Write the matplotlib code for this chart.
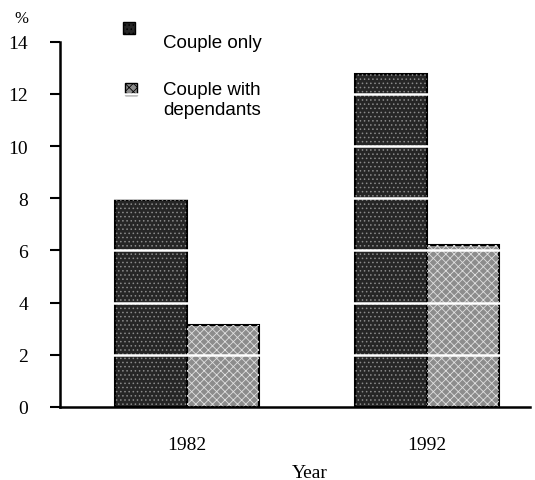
import numpy as np
import matplotlib
matplotlib.use("Agg")
import matplotlib.pyplot as plt
from matplotlib.patches import Rectangle

# data
years = ["1982", "1992"]
couple_only = [7.95, 12.75]
couple_dep = [3.15, 6.2]
labels = ["Couple only", "Couple with\ndependants"]

plt.rcParams['hatch.linewidth'] = 0.6

fig = plt.figure(figsize=(5.35, 4.81), dpi=100)
ax = fig.add_axes([0.112, 0.152, 0.878, 0.759])

x = np.arange(len(years))
w = 0.3

dark = "#262626"
light = "#8c8c8c"

# dark dotted bars
ax.bar(x - w / 2, couple_only, w, color=dark, edgecolor="black",
       linewidth=1.5, zorder=1)
ax.bar(x - w / 2, couple_only, w, color="none", edgecolor="#8a8a8a",
       hatch="....", linewidth=0, zorder=1.5)
# lighter checked bars
ax.bar(x + w / 2, couple_dep, w, color=light, edgecolor="black",
       linewidth=1.5, zorder=1)
ax.bar(x + w / 2, couple_dep, w, color="none", edgecolor="#e0e0e0",
       hatch="xxxx", linewidth=0, zorder=1.5)

# white lines across the bars
for yv in range(2, 14, 2):
    ax.axhline(yv, color="white", lw=1.8, zorder=2)

ax.set_xlim(-0.529, 1.429)
ax.set_ylim(0, 14)
ax.set_yticks(range(0, 15, 2))
ax.set_xticks(x)
ax.set_xticklabels(years, family="Liberation Serif", fontsize=14)
for t in ax.get_yticklabels():
    t.set_family("Liberation Serif")
    t.set_fontsize(14)
ax.tick_params(axis="x", length=0, pad=21)
ax.tick_params(axis="y", direction="out", length=7, width=1.5, pad=16)

for s in ["top", "right"]:
    ax.spines[s].set_visible(False)
ax.spines["left"].set_linewidth(1.8)
ax.spines["bottom"].set_linewidth(1.8)

ax.text(0.532, -0.181, "Year", transform=ax.transAxes,
        family="Liberation Serif", fontsize=14, ha="center", va="center")
ax.text(-0.083, 1.065, "%", transform=ax.transAxes,
        family="Liberation Serif", fontsize=12, ha="center", va="center")

# legend drawn by hand: square above-left of each label
for (x0, y0), c, h in [((0.134, 1.022), dark, "...."), ((0.138, 0.853), light, "xxxx")]:
    ax.add_patch(Rectangle((x0, y0), 0.0255, 0.033, transform=ax.transAxes,
                           facecolor=c, edgecolor="black", lw=1, hatch=h,
                           clip_on=False))
ax.text(0.219, 0.998, labels[0], transform=ax.transAxes, family="Liberation Sans",
        fontsize=13.5, ha="left", va="center")
ax.text(0.219, 0.892, labels[1], transform=ax.transAxes, family="Liberation Sans",
        fontsize=13.5, ha="left", va="top", linespacing=1.2)

plt.savefig("out.png", dpi=100)
